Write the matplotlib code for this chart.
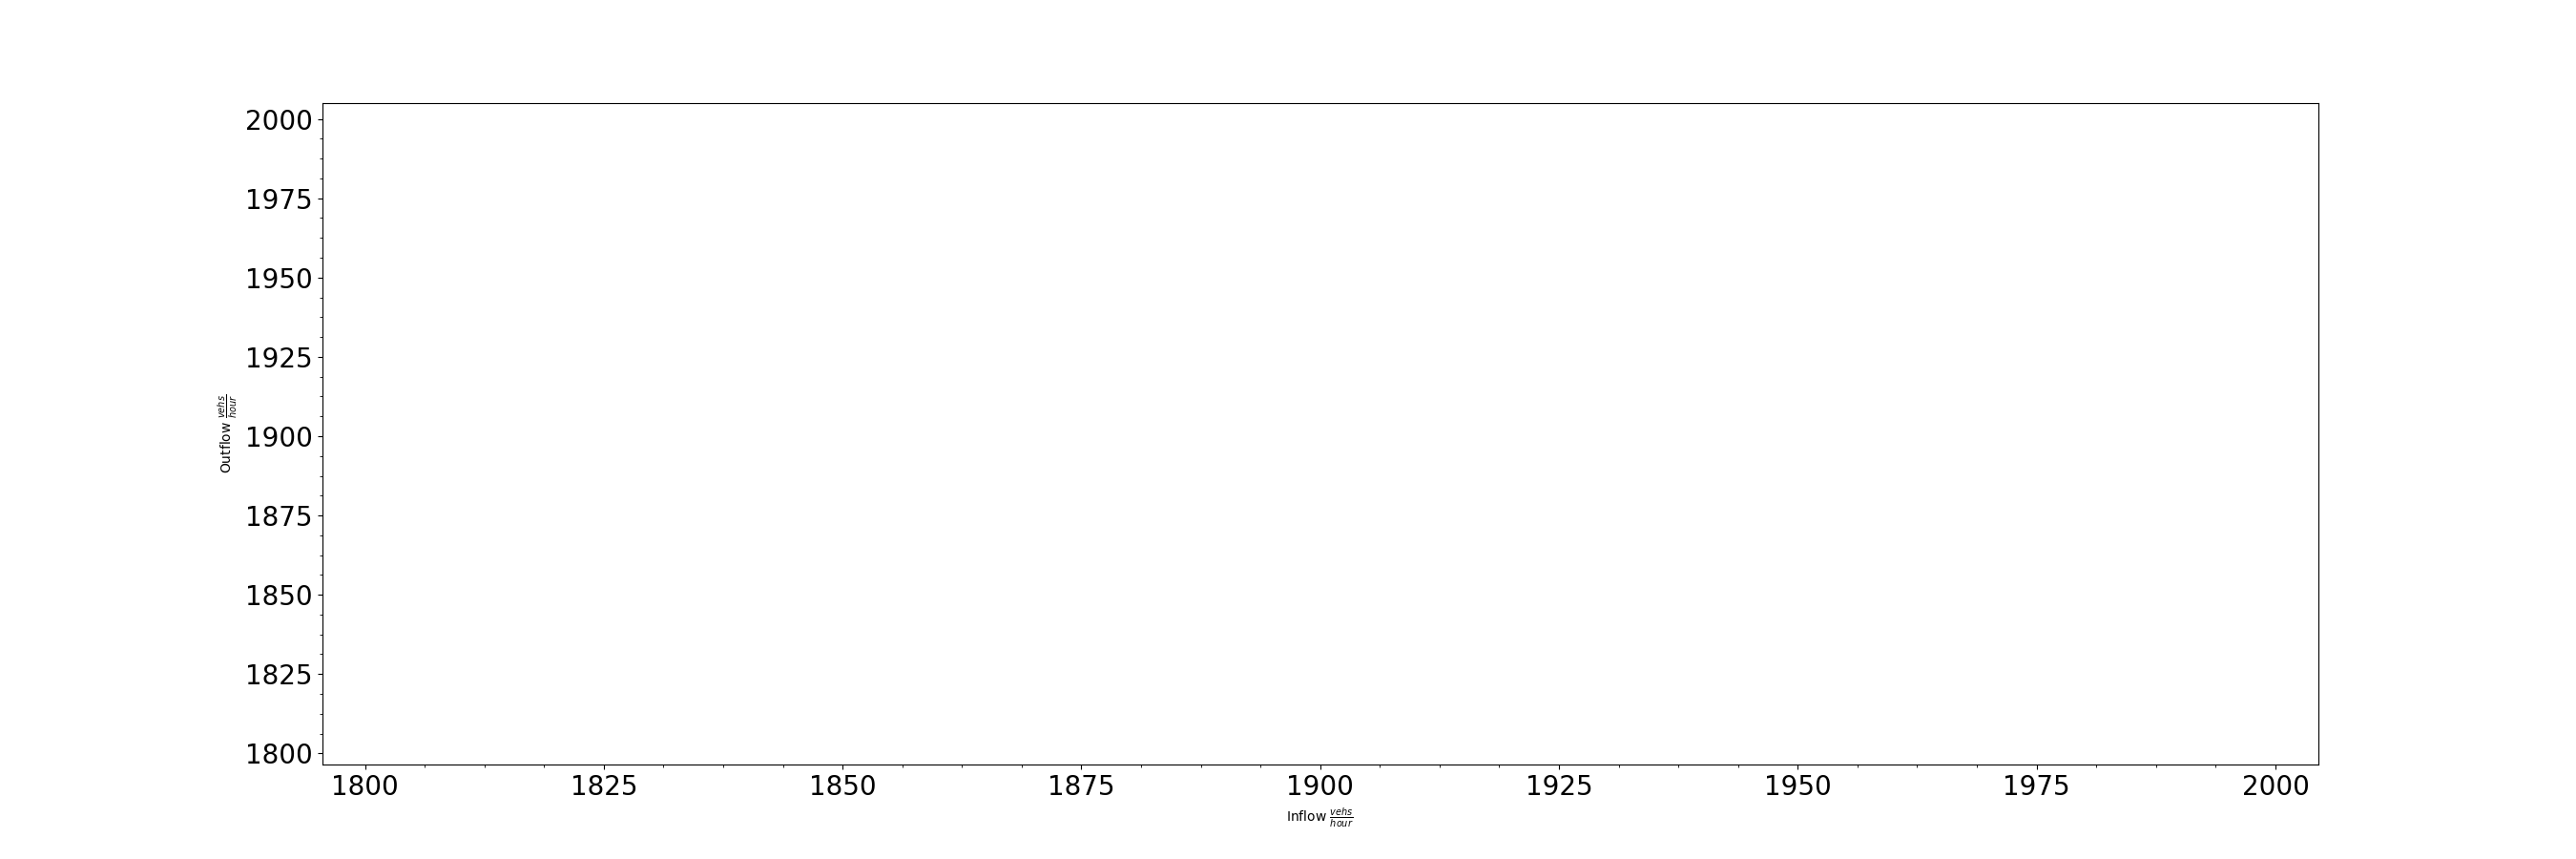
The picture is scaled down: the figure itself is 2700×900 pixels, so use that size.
import matplotlib
matplotlib.use("Agg")
import matplotlib.pyplot as plt
from matplotlib.ticker import AutoMinorLocator

# Data (the reference chart shows no visible marks)
inflow = []
outflow = []
x_limits = [1795.5, 2004.5]
y_limits = [1796.5, 2005.0]

fig, ax = plt.subplots(figsize=(27, 9), dpi=100)
ax.scatter(inflow, outflow)
ax.set_xlim(*x_limits)
ax.set_ylim(*y_limits)
ax.xaxis.set_minor_locator(AutoMinorLocator(4))
ax.yaxis.set_minor_locator(AutoMinorLocator(4))
ax.tick_params(axis="both", which="major", labelsize=20)
ax.set_xlabel(r"Inflow $\frac{vehs}{hour}$")
ax.set_ylabel(r"Outflow $\frac{vehs}{hour}$")
fig.savefig("out.png", dpi=100)
